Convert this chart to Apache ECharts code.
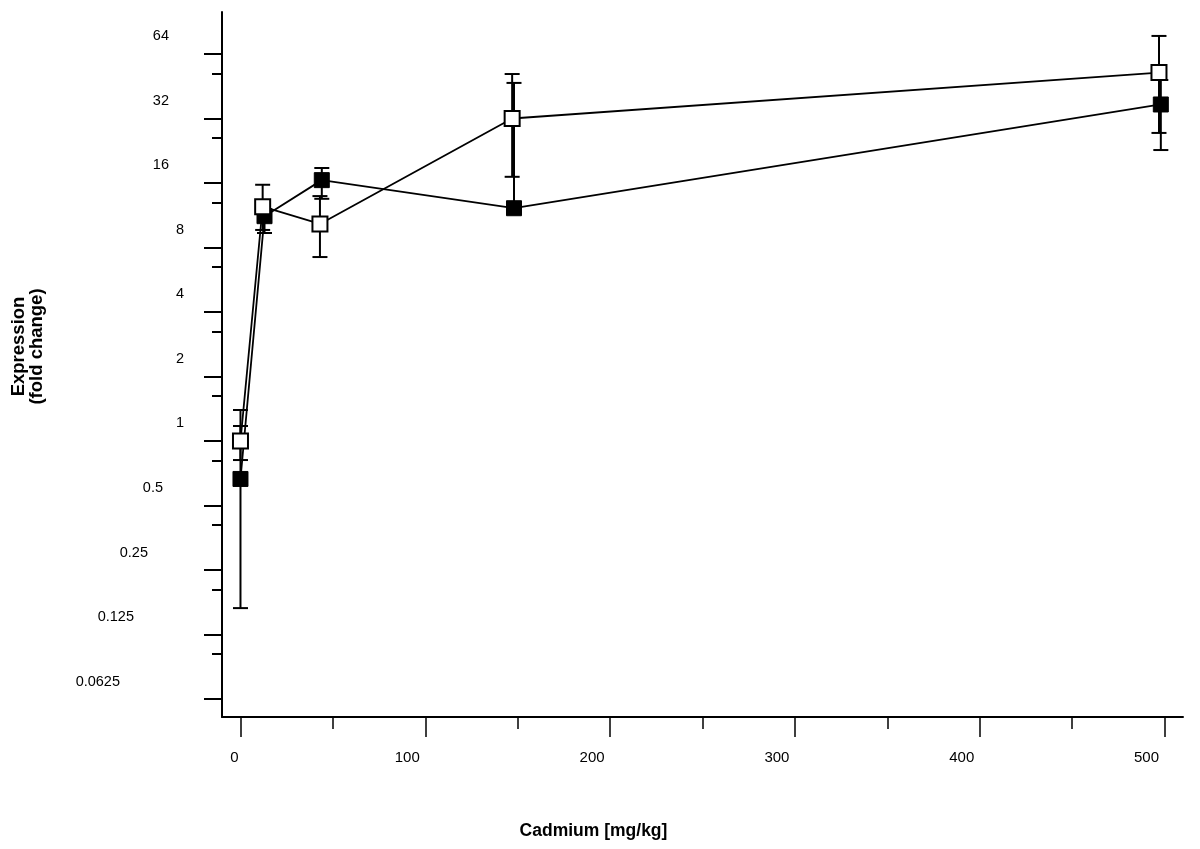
<!DOCTYPE html>
<html><head><meta charset="utf-8">
<script src="https://cdn.jsdelivr.net/npm/echarts@6.0.0/dist/echarts.min.js"></script>
<style>html,body{margin:0;padding:0;background:#fff}#c{width:1200px;height:849px}</style>
</head><body><div id="c"></div>
<script>
// ---- data ----
const xMajorTicks = [0, 100, 200, 300, 400, 500];
const xMinorTicks = [50, 150, 250, 350, 450];
const yTickValues = [0.0625, 0.125, 0.25, 0.5, 1, 2, 4, 8, 16, 32, 64];
const yMinorTicks = [0.1014, 0.2028, 0.4056, 0.8113, 1.623, 3.245, 6.490, 12.98, 25.96, 51.92];

const filledDose = [0, 13, 44, 148, 498];
const filledMean = [0.665, 11.2, 16.5, 12.2, 37.2];
const filledLow  = [0.166, 9.35, 13.5, 11.7, 22.8];
const filledHigh = [1.175, 11.8, 18.8, 46.9, 48.4];

const openDose = [0, 12, 43, 147, 497];
const openMean = [1.0, 12.4, 10.3, 32.0, 52.4];
const openLow  = [0.815, 9.66, 7.22, 17.1, 27.4];
const openHigh = [1.395, 15.7, 13.9, 51.6, 77.7];

// ---- chart ----
const FONT = 'Liberation Sans, Arial, sans-serif';
const L2 = Math.log2;
const yLabelClass = { '64': 'a', '32': 'a', '16': 'a', '8': 'b', '4': 'b', '2': 'b', '1': 'b',
  '0.5': 'c', '0.25': 'd', '0.125': 'e', '0.0625': 'f' };
const yPad = { a: 15, b: 0, c: 21, d: 36, e: 50, f: 64 };
const yRich = {};
Object.keys(yPad).forEach(k => {
  yRich[k] = { fontSize: 14.5, fontFamily: FONT, color: '#000', padding: [0, yPad[k], 0, 0] };
});

function errRender(params, api) {
  const x = api.value(0);
  const lo = api.coord([x, api.value(1)]);
  const hi = api.coord([x, api.value(2)]);
  const hw = 7.5;
  const st = { stroke: '#000', lineWidth: 2 };
  return { type: 'group', children: [
    { type: 'line', shape: { x1: lo[0], y1: lo[1], x2: hi[0], y2: hi[1] }, style: st },
    { type: 'line', shape: { x1: lo[0] - hw, y1: lo[1], x2: lo[0] + hw, y2: lo[1] }, style: st },
    { type: 'line', shape: { x1: hi[0] - hw, y1: hi[1], x2: hi[0] + hw, y2: hi[1] }, style: st }
  ]};
}

const chart = echarts.init(document.getElementById('c'), null, { renderer: 'canvas' });
const xMin = -10, xMax = 510, yMin = -4.279, yMax = 6.651;

chart.setOption({
  animation: false,
  backgroundColor: '#fff',
  grid: { left: 222, right: 17, top: 12, bottom: 132, containLabel: false },
  xAxis: [
    { type: 'value', min: xMin, max: xMax, position: 'bottom',
      name: 'Cadmium [mg/kg]', nameLocation: 'middle', nameGap: 105,
      nameTextStyle: { fontSize: 17.5, fontWeight: 'bold', fontFamily: FONT, color: '#000', padding: [0, 218, 0, 0] },
      axisLine: { show: true, onZero: false, lineStyle: { color: '#000', width: 2 } },
      axisTick: { show: true, customValues: xMajorTicks, length: 20, lineStyle: { color: '#000', width: 1.5 } },
      axisLabel: { customValues: xMajorTicks, margin: 33, color: '#000', fontSize: 15, fontFamily: FONT,
        formatter: v => (v === 0 ? '{z|' + v + '}' : '{n|' + v + '}'),
        rich: { z: { fontSize: 15, fontFamily: FONT, color: '#000', padding: [0, 12, 0, 0] },
                n: { fontSize: 15, fontFamily: FONT, color: '#000', padding: [0, 36, 0, 0] } } },
      splitLine: { show: false } },
    { type: 'value', min: xMin, max: xMax, position: 'bottom', gridIndex: 0,
      axisLine: { show: false, onZero: false },
      axisTick: { show: true, customValues: xMinorTicks, length: 12, lineStyle: { color: '#000', width: 1.5 } },
      axisLabel: { show: false }, splitLine: { show: false } }
  ],
  yAxis: [
    { type: 'value', min: yMin, max: yMax, position: 'left',
      name: 'Expression\n(fold change)', nameLocation: 'middle', nameGap: 176,
      nameTextStyle: { fontSize: 18.5, lineHeight: 18, fontWeight: 'bold', fontFamily: FONT, color: '#000', padding: [0, 0, 0, 36] },
      axisLine: { show: true, onZero: false, lineStyle: { color: '#000', width: 2 } },
      axisTick: { show: true, customValues: yTickValues.map(L2), length: 18, lineStyle: { color: '#000', width: 2 } },
      axisLabel: { customValues: yTickValues.map(L2), align: 'right', margin: 38, padding: [0, 0, 35, 0],
        color: '#000', fontSize: 14.5, fontFamily: FONT,
        formatter: v => { const s = String(+Math.pow(2, v).toFixed(4)); return '{' + (yLabelClass[s] || 'b') + '|' + s + '}'; },
        rich: yRich },
      splitLine: { show: false } },
    { type: 'value', min: yMin, max: yMax, position: 'left', gridIndex: 0,
      axisLine: { show: false, onZero: false },
      axisTick: { show: true, customValues: yMinorTicks.map(L2), length: 10, lineStyle: { color: '#000', width: 2 } },
      axisLabel: { show: false }, splitLine: { show: false } }
  ],
  series: [
    { type: 'custom', xAxisIndex: 0, yAxisIndex: 0, renderItem: errRender, encode: { x: 0, y: [1, 2] },
      data: filledDose.map((d, i) => [d, L2(filledLow[i]), L2(filledHigh[i])]), z: 1 },
    { type: 'custom', xAxisIndex: 0, yAxisIndex: 0, renderItem: errRender, encode: { x: 0, y: [1, 2] },
      data: openDose.map((d, i) => [d, L2(openLow[i]), L2(openHigh[i])]), z: 1 },
    { type: 'line', xAxisIndex: 0, yAxisIndex: 0, z: 3,
      data: filledDose.map((d, i) => [d, L2(filledMean[i])]),
      symbol: 'rect', symbolSize: 15, showAllSymbol: true,
      lineStyle: { color: '#000', width: 1.8 },
      itemStyle: { color: '#000', borderColor: '#000', borderWidth: 1 } },
    { type: 'line', xAxisIndex: 0, yAxisIndex: 0, z: 4,
      data: openDose.map((d, i) => [d, L2(openMean[i])]),
      symbol: 'rect', symbolSize: 15, showAllSymbol: true,
      lineStyle: { color: '#000', width: 1.8 },
      itemStyle: { color: '#fff', borderColor: '#000', borderWidth: 2 } }
  ]
});
</script>
</body></html>
